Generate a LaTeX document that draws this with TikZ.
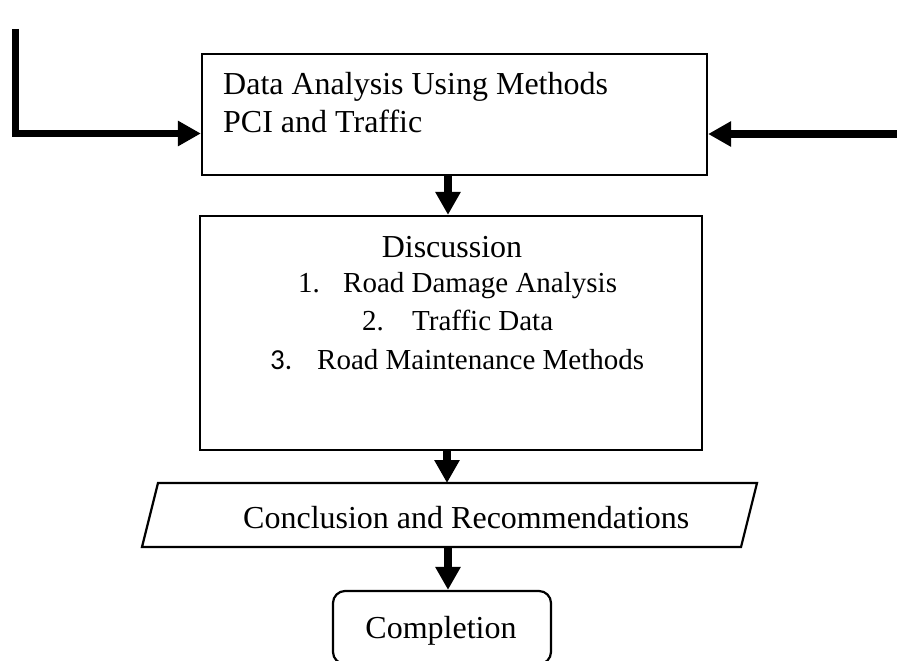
\documentclass[tikz,border=0pt]{standalone}
\usepackage{fontspec}
\setmainfont{Liberation Serif}
\newfontfamily\calibfont{Carlito}
\usetikzlibrary{arrows.meta,calc}
\begin{document}
\begin{tikzpicture}[x=1pt,y=-1pt,
  boxstyle/.style={draw, line width=2.2pt, inner sep=0pt},
  txt/.style={inner sep=0pt, font=\fontsize{32}{36}\selectfont},
  listtxt/.style={inner sep=0pt, font=\fontsize{29}{33}\selectfont},
  bigarrow/.style={line width=7.5pt, line join=miter, -{Triangle[length=23pt,width=24pt]}}]
\useasboundingbox (0,0) rectangle (897,661);
\clip (0,0) rectangle (897,661);

% boxes
\node[boxstyle, minimum width=505pt, minimum height=121pt] (analysis) at (454.5,114.5) {};
\node[boxstyle, minimum width=502pt, minimum height=234pt] (discussion) at (451,333) {};
\node[boxstyle, rounded corners=12pt, minimum width=218pt, minimum height=73pt] (completion) at (442,627.5) {};

% parallelogram
\coordinate (pTL) at (158,483);
\coordinate (pTR) at (757,483);
\coordinate (pBR) at (741,547);
\coordinate (pBL) at (142,547);
\draw[line width=2.2pt, line join=miter] (pTL) -- (pTR) -- (pBR) -- (pBL) -- cycle;
\coordinate (concTop) at (447,483);
\coordinate (concBot) at (448,547);

% texts
\node[txt, anchor=base west] (t1) at (223,95) {Data Analysis Using Methods};
\node[txt, anchor=base west] (t2) at (223,132) {PCI and Traffic};
\node[txt, anchor=base] (d0) at (452,257) {Discussion};
\node[listtxt, anchor=base west] (n1) at (298,292) {1.};
\node[listtxt, anchor=base west] (d1) at (343,292) {Road Damage Analysis};
\node[listtxt, anchor=base west] (n2) at (362,330) {2.};
\node[listtxt, anchor=base west] (d2) at (412,330) {Traffic Data};
\node[listtxt, anchor=base west, font=\calibfont\fontsize{29}{33}\selectfont] (n3) at (270,369) {3.};
\node[listtxt, anchor=base west] (d3) at (317,369) {Road Maintenance Methods};
\node[txt, anchor=base west] (conc) at (243,528) {Conclusion and Recommendations};
\node[txt, anchor=base] (comp) at (441,638) {Completion};

% connectors
\coordinate (lstart) at (15.5,29);
\coordinate (lcorner) at (15.5,133.5);
\draw[bigarrow] (lstart) -- (lcorner) -- (lcorner -| analysis.west);
\coordinate (rstart) at (897,134);
\draw[bigarrow] (rstart) -- (rstart -| analysis.east);
\coordinate (ax1) at (448,0);
\coordinate (ax2) at (447,0);
\draw[bigarrow] (analysis.south -| ax1) -- (discussion.north -| ax1);
\draw[bigarrow] (discussion.south -| ax2) -- (concTop);
\draw[bigarrow] (concBot) -- (completion.north -| concBot);
\end{tikzpicture}
\end{document}
